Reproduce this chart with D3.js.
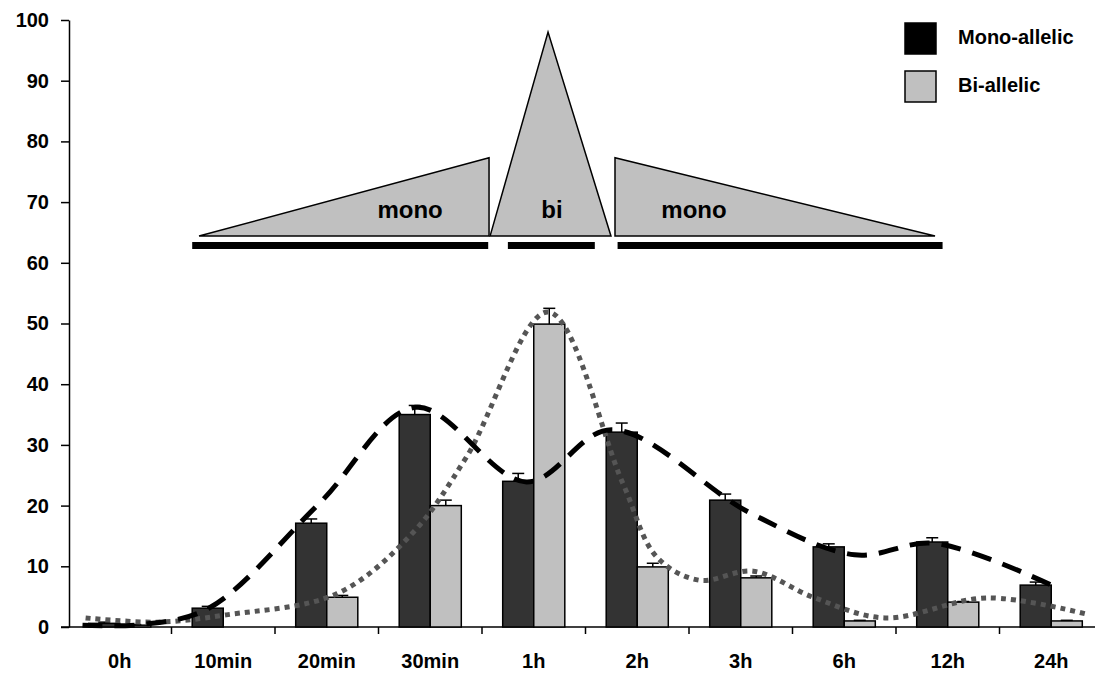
<!DOCTYPE html>
<html>
<head>
<meta charset="utf-8">
<script src="https://cdn.jsdelivr.net/npm/d3@7"></script>
<style>
  html, body { margin: 0; padding: 0; background: #fff; }
  svg text { font-family: "Liberation Sans", Arial, sans-serif; font-weight: bold; fill: #000; }
</style>
</head>
<body>
<svg id="chart" width="1095" height="673"></svg>
<script>
// Time points after induction
const categories = ["0h", "10min", "20min", "30min", "1h", "2h", "3h", "6h", "12h", "24h"];

// Percentage of cells, mono-allelic vs bi-allelic expression
const monoValues = [0.6, 3.1, 17.1, 35.0, 24.0, 32.1, 20.9, 13.2, 14.0, 6.9];
const monoErrors = [0.2, 0.3, 0.7, 1.5, 1.3, 1.5, 1.0, 0.5, 0.7, 0.5];
const biValues   = [0.3, 0.0, 4.9, 20.0, 49.9, 9.9, 8.1, 1.0, 4.1, 1.0];
const biErrors   = [0.1, 0.0, 0.3, 0.9, 2.6, 0.6, 0.3, 0.1, 0.1, 0.1];

// Trend curves: [time index, percent]
const monoTrend = [[-0.36, 0.3], [0.2, 0.4], [0.86, 3.1], [1.93, 20.4], [2.86, 36.2],
                   [3.93, 23.9], [4.75, 32.5], [6.09, 18.8], [7.1, 11.9], [7.87, 13.8], [9.0, 6.9]];
const biTrend   = [[-0.33, 1.5], [0.36, 0.8], [1.03, 2.0], [2.1, 5.5], [2.83, 15.5], [3.35, 28.0],
                   [4.14, 51.9], [4.86, 23.7], [5.19, 11.5], [5.6, 7.7], [6.12, 9.2], [6.7, 4.9],
                   [7.39, 1.5], [8.38, 4.8], [9.37, 2.0]];

// Y axis ticks
const yTicks = [0, 10, 20, 30, 40, 50, 60, 70, 80, 90, 100];

// Expression phases shown above the bars: [time index, percent] polygons
const phaseShapes = [
  { label: "mono", pts: [[0.766, 64.4], [3.568, 77.3], [3.568, 64.4]], text: [2.805, 67.4] },
  { label: "bi",   pts: [[3.578, 64.4], [4.138, 98.0], [4.746, 64.4]], text: [4.176, 67.4] },
  { label: "mono", pts: [[4.785, 77.3], [4.785, 64.4], [7.877, 64.4]], text: [5.548, 67.4] }
];
// Phase duration bars: [start index, end index, percent]
const phaseBars = [[0.70, 3.56, 62.85], [3.75, 4.59, 62.85], [4.81, 7.95, 62.85]];

// Legend entries
const legendLabels = ["Mono-allelic", "Bi-allelic"];

const MONO_FILL = "#333333";
const BI_FILL = "#c0c0c0";

const svg = d3.select("#chart");

const x = d3.scaleBand().domain(categories).range([68, 1103]).padding(0);
const y = d3.scaleLinear().domain([0, 100]).range([627, 20]);
const bw = x.bandwidth();
const barW = bw * 0.3;
const xi = d3.scaleLinear().domain([0, categories.length - 1])
  .range([x(categories[0]) + bw / 2, x(categories[categories.length - 1]) + bw / 2]);

// Y axis
const yAxis = svg.append("g")
  .attr("transform", "translate(69,0)")
  .call(d3.axisLeft(y).tickValues(yTicks).tickSize(8).tickPadding(12).tickSizeOuter(0));
yAxis.select(".domain").attr("stroke", "#000").attr("stroke-width", 1.5);
yAxis.selectAll(".tick line").attr("stroke", "#000").attr("stroke-width", 1.5);
yAxis.selectAll("text").style("font-size", "20px").style("font-family", "Liberation Sans, Arial, sans-serif").style("font-weight", "bold");

// X axis: labels under each time point, ticks between categories
const xAxis = svg.append("g")
  .attr("transform", `translate(0,${y(0)})`)
  .call(d3.axisBottom(x).tickSize(0).tickPadding(27));
xAxis.select(".domain").remove();
xAxis.selectAll("text").style("font-size", "20px").style("font-family", "Liberation Sans, Arial, sans-serif").style("font-weight", "bold");

svg.append("line")
  .attr("x1", 61).attr("x2", 1095)
  .attr("y1", y(0)).attr("y2", y(0))
  .attr("stroke", "#000").attr("stroke-width", 1.5);

svg.append("g").selectAll("line")
  .data(d3.range(1, categories.length + 1))
  .join("line")
  .attr("x1", i => x.range()[0] + i * bw)
  .attr("x2", i => x.range()[0] + i * bw)
  .attr("y1", y(0)).attr("y2", y(0) + 7)
  .attr("stroke", "#000").attr("stroke-width", 1.5);

// Bars
const barData = categories.flatMap((c, i) => [
  { c, v: monoValues[i], e: monoErrors[i], off: -barW, fill: MONO_FILL },
  { c, v: biValues[i], e: biErrors[i], off: 0, fill: BI_FILL }
]).filter(d => d.v > 0);

svg.append("g").selectAll("rect")
  .data(barData)
  .join("rect")
  .attr("x", d => x(d.c) + bw / 2 + d.off)
  .attr("y", d => y(d.v))
  .attr("width", barW)
  .attr("height", d => y(0) - y(d.v))
  .attr("fill", d => d.fill)
  .attr("stroke", "#000")
  .attr("stroke-width", 1.5);

// Error bars (upper)
const errG = svg.append("g").attr("stroke", "#000").attr("stroke-width", 1.5);
barData.filter(d => d.e > 0).forEach(d => {
  const cx = x(d.c) + bw / 2 + d.off + barW / 2;
  errG.append("line").attr("x1", cx).attr("x2", cx).attr("y1", y(d.v)).attr("y2", y(d.v + d.e));
  errG.append("line").attr("x1", cx - 6).attr("x2", cx + 6).attr("y1", y(d.v + d.e)).attr("y2", y(d.v + d.e));
});

// Trend curves
const line = d3.line().x(d => xi(d[0])).y(d => y(d[1])).curve(d3.curveCatmullRom.alpha(0.5));

svg.append("path")
  .attr("d", line(biTrend))
  .attr("fill", "none")
  .attr("stroke", "#555555")
  .attr("stroke-width", 5)
  .attr("stroke-dasharray", "5,5");

svg.append("path")
  .attr("d", line(monoTrend))
  .attr("fill", "none")
  .attr("stroke", "#000")
  .attr("stroke-width", 5)
  .attr("stroke-dasharray", "20,12");

// Phase triangles
const phaseG = svg.append("g");
phaseShapes.forEach(p => {
  phaseG.append("polygon")
    .attr("points", p.pts.map(q => [xi(q[0]), y(q[1])].join(",")).join(" "))
    .attr("fill", BI_FILL)
    .attr("stroke", "#000")
    .attr("stroke-width", 1.5);
  phaseG.append("text")
    .attr("x", xi(p.text[0]))
    .attr("y", y(p.text[1]))
    .attr("text-anchor", "middle")
    .style("font-size", "24px")
    .text(p.label);
});
phaseG.selectAll("line.phase")
  .data(phaseBars)
  .join("line")
  .attr("class", "phase")
  .attr("x1", d => xi(d[0])).attr("x2", d => xi(d[1]))
  .attr("y1", d => y(d[2])).attr("y2", d => y(d[2]))
  .attr("stroke", "#000").attr("stroke-width", 7);

// Legend
const legend = svg.append("g");
const legendFills = ["#000", BI_FILL];
legendLabels.forEach((lab, i) => {
  const gy = 23 + i * 48;
  legend.append("rect")
    .attr("x", 905).attr("y", gy).attr("width", 31).attr("height", 31)
    .attr("fill", legendFills[i])
    .attr("stroke", "#000").attr("stroke-width", 1.5);
  legend.append("text")
    .attr("x", 958).attr("y", gy + 14)
    .attr("dy", "0.36em")
    .style("font-size", "20px")
    .text(lab);
});
</script>
</body>
</html>
